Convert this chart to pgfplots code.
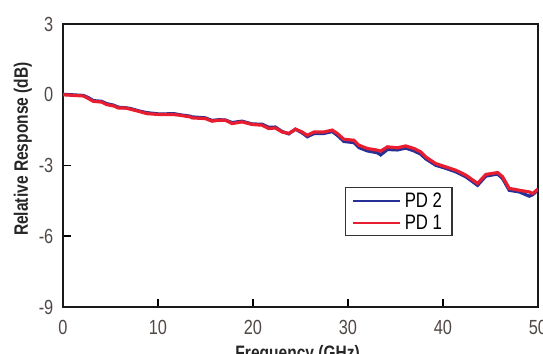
\documentclass[border=0pt]{standalone}
\usepackage{fontspec}
\setmainfont{Liberation Sans}[FakeStretch=0.8]
\usepackage{pgfplots}
\pgfplotsset{compat=1.18}
\definecolor{pdred}{RGB}{232,30,48}
\definecolor{pdblue}{RGB}{38,48,150}
\definecolor{ticktext}{RGB}{80,72,68}
\newcommand\bigf{\fontsize{20.5}{24}\selectfont}
\newcommand\legf{\fontsize{21}{24}\selectfont}
\newcommand\labf{\fontsize{19.5}{24}\selectfont}
\begin{document}
\begin{tikzpicture}
\begin{axis}[
  at={(0bp,0bp)}, anchor=south west,
  scale only axis, width=475bp, height=283bp,
  xmin=0, xmax=50, ymin=-9, ymax=3,
  xtick={0,10,20,30,40,50}, xticklabels={0,10,20,30,40,50},
  ytick={-9,-6,-3,0,3}, yticklabels={-9,-6,-3,0,3},
  tick pos=left, tick align=inside,
  major tick length=8bp,
  every tick/.style={black, line width=1.6bp},
  axis line style={line width=1.9bp, black!90},
  xticklabel style={font=\bigf, text=ticktext, inner sep=0pt, anchor=north, yshift=-13bp},
  yticklabel style={font=\bigf, text=ticktext, inner sep=0pt, anchor=east, xshift=-9.5bp},
  xlabel={\textbf{Frequency (GHz)}},
  ylabel={\textbf{Relative Response (dB)}},
  xlabel style={font=\labf, text=black!85, inner sep=0pt, at={(axis description cs:0.494,-0.187)}, anchor=base},
  ylabel style={font=\labf, text=black!85, inner sep=0pt, at={(axis description cs:-0.0846,0.558)}, anchor=center, rotate=0},
  legend style={at={(axis description cs:0.594,0.424)}, anchor=north west,
    font=\legf, draw=black!80, line width=1.3bp, inner xsep=6bp, inner ysep=3bp,
    row sep=2bp, cells={anchor=west}, nodes={inner xsep=4bp}},
  legend cell align=left,
  legend image code/.code={\draw[#1, line width=2bp] (0bp,0bp) -- (47bp,0bp);},
]
\addplot[pdblue, line width=3.2bp] coordinates {
(0,0.02) (2.14,-0.03) (2.67,-0.12) (3.20,-0.25) (4.08,-0.28) (4.61,-0.38)
(5.31,-0.44) (5.83,-0.53) (6.54,-0.55) (7.07,-0.58) (7.94,-0.68) (8.83,-0.76)
(10.23,-0.82) (11.64,-0.80) (12.34,-0.85) (13.40,-0.91) (13.58,-0.94) (14.98,-0.98)
(15.69,-1.09) (16.38,-1.06) (17.09,-1.07) (17.80,-1.18) (18.85,-1.12) (19.91,-1.24)
(20.96,-1.25) (21.66,-1.38) (22.36,-1.37) (23.07,-1.56) (23.77,-1.66) (24.47,-1.46)
(25.18,-1.62) (25.71,-1.78) (26.40,-1.65) (27.46,-1.64) (28.34,-1.56) (28.87,-1.72)
(29.57,-1.98) (30.62,-2.03) (31.15,-2.24) (32.04,-2.38) (33.09,-2.46) (33.44,-2.55)
(34.15,-2.32) (35.20,-2.34) (36.08,-2.26) (36.95,-2.38) (37.66,-2.52) (38.19,-2.72)
(39.24,-2.99) (40.30,-3.12) (41.35,-3.27) (42.41,-3.48) (43.64,-3.84) (44.51,-3.45)
(45.75,-3.36) (46.28,-3.56) (46.97,-4.05) (48.03,-4.12) (49.08,-4.30) (49.44,-4.24)
(50,-4.03)
};
\addlegendentry{PD 2}
\addplot[pdred, line width=3.2bp] coordinates {
(0,0) (2.14,-0.05) (2.67,-0.16) (3.20,-0.28) (4.08,-0.31) (4.61,-0.42)
(5.31,-0.47) (5.83,-0.56) (6.54,-0.56) (7.07,-0.61) (7.94,-0.70) (8.83,-0.80)
(10.23,-0.84) (11.64,-0.84) (12.34,-0.87) (13.40,-0.94) (13.58,-0.98) (14.98,-1.01)
(15.69,-1.12) (16.38,-1.08) (17.09,-1.08) (17.80,-1.22) (18.85,-1.15) (19.91,-1.26)
(20.96,-1.29) (21.66,-1.43) (22.36,-1.41) (23.07,-1.58) (23.77,-1.64) (24.47,-1.46)
(25.18,-1.58) (25.71,-1.72) (26.40,-1.58) (27.46,-1.58) (28.34,-1.50) (28.87,-1.64)
(29.57,-1.89) (30.62,-1.93) (31.15,-2.14) (32.04,-2.28) (33.09,-2.35) (33.44,-2.39)
(34.15,-2.21) (35.20,-2.25) (36.08,-2.17) (36.95,-2.28) (37.66,-2.42) (38.19,-2.64)
(39.24,-2.92) (40.30,-3.06) (41.35,-3.20) (42.41,-3.41) (43.64,-3.76) (44.51,-3.38)
(45.75,-3.30) (46.28,-3.48) (46.97,-3.97) (48.03,-4.05) (49.08,-4.12) (49.44,-4.19)
(50,-4.00)
};
\addlegendentry{PD 1}
\end{axis}
\pgfresetboundingbox
\useasboundingbox (-63bp,-47bp) rectangle (480bp,307bp);
\end{tikzpicture}
\end{document}
